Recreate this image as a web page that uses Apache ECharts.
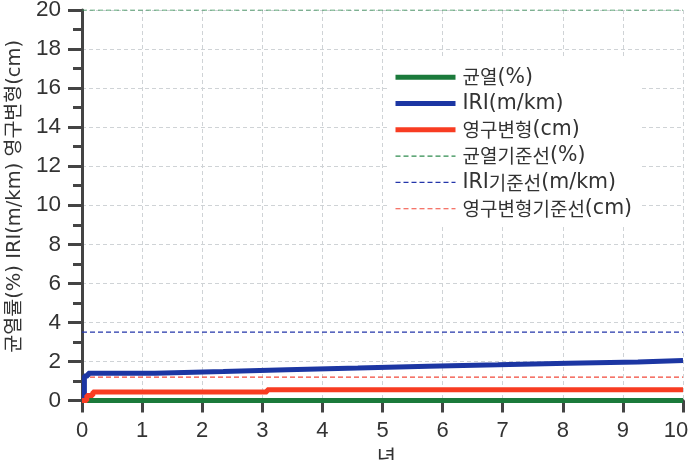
<!DOCTYPE html>
<html><head><meta charset="utf-8">
<script src="https://cdn.jsdelivr.net/npm/echarts@6/dist/echarts.min.js"></script>
<style>html,body{margin:0;padding:0;background:#fff}#c{width:689px;height:460px}</style>
</head><body><div id="c"></div>
<script>
// ---- data ----
const crackYears = [0, 10];
const crackValues = [0, 0];
const iriYears = [0, 0.04, 0.1, 1.21, 2.35, 3.41, 4.59, 5.76, 6.92, 8.09, 9.25, 10];
const iriValues = [0, 1.25, 1.39, 1.48, 1.58, 1.66, 1.76, 1.83, 1.91, 1.97, 2.05, 2.05];
const rutYears = [0, 0.08, 0.18, 3.08, 10];
const rutValues = [0, 0.25, 0.44, 0.55, 0.55];
const crackLimit = 20;
const iriLimit = 3.5;
const rutLimit = 1.2;
const seriesNames = ['균열(%)', 'IRI(m/km)', '영구변형(cm)', '균열기준선(%)', 'IRI기준선(m/km)', '영구변형기준선(cm)'];
const xTicks = [0,1,2,3,4,5,6,7,8,9,10];

const zip = (xs, ys) => xs.map((x, i) => [x, ys[i]]);
const numFont = '"Liberation Sans", "Noto Sans CJK KR", sans-serif';
const txtFont = '"DejaVu Sans", "Noto Sans CJK KR", sans-serif';
const korFont = '"Noto Sans CJK KR", sans-serif';
const txt = '#333';
const C = {green: '#1b7a3b', blue: '#1c36a3', red: '#f83c22', gDash: '#2f8c4f', bDash: '#2436aa', rDash: '#f2483a'};

// split a label into Korean / Latin runs for rich text
function richify(s) {
  const runs = s.match(/[\uAC00-\uD7A3]+|[^\uAC00-\uD7A3]+/g) || [];
  return runs.map(r => /[\uAC00-\uD7A3]/.test(r) ? '{k|' + r + '}' : '{l|' + r + '}').join('');
}

const chart = echarts.init(document.getElementById('c'), null, {renderer: 'canvas'});
chart.setOption({
  animation: false,
  grid: {left: 82, right: 6, top: 10, bottom: 59.5, containLabel: false, outerBoundsMode: 'none'},
  legend: {
    orient: 'vertical', left: 387, top: 59,
    itemWidth: 60, itemHeight: 19, itemGap: 5.8,
    backgroundColor: '#fff', padding: [8, 8, 8, 6],
    itemStyle: {opacity: 0},
    formatter: n => richify(n),
    textStyle: {color: txt, padding: [0, 0, 0, 2],
      rich: {
        k: {fontFamily: korFont, fontSize: 19, color: txt, lineHeight: 19},
        l: {fontFamily: txtFont, fontSize: 20.5, color: txt, lineHeight: 19}
      }},
    data: seriesNames.map((n, i) => ({name: n, lineStyle: {width: i < 3 ? 5 : 1.2}}))
  },
  xAxis: {
    type: 'value', min: 0, max: 10, interval: 1,
    name: '년', nameLocation: 'middle', nameGap: 45,
    nameTextStyle: {fontFamily: korFont, fontSize: 21, color: txt, padding: [0, 0, 0, 8]},
    axisLine: {lineStyle: {color: '#444', width: 3}},
    axisTick: {show: true, length: 12, lineStyle: {color: '#444', width: 3}},
    axisLabel: {fontFamily: numFont, fontSize: 22, color: txt, margin: 19,
      formatter: v => !xTicks.includes(v) ? '' : (v === 10 ? '{last|10}' : String(v)),
      rich: {last: {fontFamily: numFont, fontSize: 22, color: txt, padding: [0, 14, 0, 0]}}},
    splitLine: {show: true, lineStyle: {color: '#cfd3d6', type: [4, 3], width: 1}}
  },
  yAxis: {
    type: 'value', min: 0, max: 20, interval: 2,
    name: '균열률(%) IRI(m/km) 영구변형(cm)', nameLocation: 'middle', nameGap: 56, nameRotate: 90,
    nameTextStyle: {fontFamily: txtFont, fontSize: 19.5, color: txt, padding: [0, 0, 0, 18]},
    axisLine: {show: true, lineStyle: {color: '#444', width: 3}},
    axisTick: {show: true, length: 14, lineStyle: {color: '#444', width: 3}},
    minorTick: {show: true, splitNumber: 2, length: 9, lineStyle: {color: '#444', width: 3}},
    axisLabel: {fontFamily: numFont, fontSize: 22.5, color: txt, margin: 21},
    splitLine: {show: true, lineStyle: {color: '#cfd3d6', type: [4, 3], width: 1}}
  },
  series: [
    {name: seriesNames[0], type: 'line', data: zip(crackYears, crackValues), symbol: 'none', z: 5,
     lineStyle: {color: C.green, width: 5}, itemStyle: {color: C.green}},
    {name: seriesNames[1], type: 'line', step: 'end', data: zip(iriYears, iriValues), symbol: 'none', z: 5,
     lineStyle: {color: C.blue, width: 5}, itemStyle: {color: C.blue}},
    {name: seriesNames[2], type: 'line', step: 'end', data: zip(rutYears, rutValues), symbol: 'none', z: 5,
     lineStyle: {color: C.red, width: 5}, itemStyle: {color: C.red}},
    {name: seriesNames[3], type: 'line', data: [[0, crackLimit], [10, crackLimit]], symbol: 'none', z: 4,
     lineStyle: {color: C.gDash, width: 1.2, type: [5, 3]}, itemStyle: {color: C.gDash}},
    {name: seriesNames[4], type: 'line', data: [[0, iriLimit], [10, iriLimit]], symbol: 'none', z: 4,
     lineStyle: {color: C.bDash, width: 1.2, type: [5, 3]}, itemStyle: {color: C.bDash}},
    {name: seriesNames[5], type: 'line', data: [[0, rutLimit], [10, rutLimit]], symbol: 'none', z: 4,
     lineStyle: {color: C.rDash, width: 1.2, type: [5, 3]}, itemStyle: {color: C.rDash}}
  ]
});
</script></body></html>
